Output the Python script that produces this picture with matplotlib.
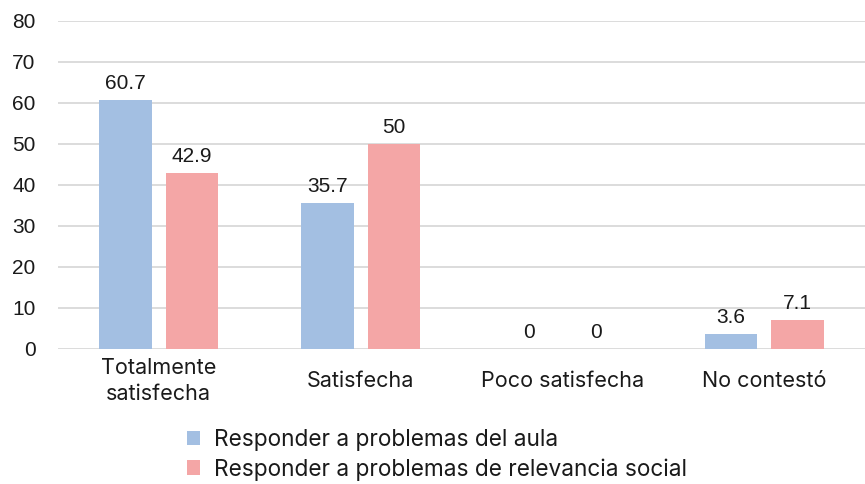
import matplotlib

matplotlib.use("Agg")
import matplotlib.pyplot as plt
import numpy as np

categories = ["Totalmente\nsatisfecha", "Satisfecha", "Poco satisfecha", "No contestó"]
series_names = ["Responder a problemas del aula",
                "Responder a problemas de relevancia social"]
aula = [60.7, 35.7, 0, 3.6]
social = [42.9, 50, 0, 7.1]
yticks = [0, 10, 20, 30, 40, 50, 60, 70, 80]

COLORS = ["#A3BFE2", "#F4A6A6"]
LABEL_FONT = ["Inter", "DejaVu Sans"]
NUM_FONT = ["Liberation Sans", "DejaVu Sans"]

fig = plt.figure(figsize=(8.65, 4.84), dpi=100)
ax = fig.add_axes([0.067, 0.279, 0.933, 0.678])

x = np.arange(len(categories))
width = 0.26
offset = 0.165
for vals, name, color, sign in zip((aula, social), series_names, COLORS, (-1, 1)):
    bars = ax.bar(x + sign * offset, vals, width, color=color, label=name, zorder=2)
    for rect, v in zip(bars, vals):
        ax.annotate(f"{v:g}", (rect.get_x() + rect.get_width() / 2, rect.get_height()),
                    xytext=(0, 5), textcoords="offset points", ha="center", va="bottom",
                    fontsize=15, family=NUM_FONT, color="#1a1a1a")

ax.set_xlim(-0.5, len(categories) - 0.5)
ax.set_ylim(0, 80)
ax.set_yticks(yticks)
ax.set_yticklabels([str(t) for t in yticks], family=NUM_FONT, fontsize=15, color="#1a1a1a")
ax.tick_params(axis="y", length=0, pad=16)
ax.set_xticks([])
ax.grid(axis="y", color="#D9D9D9", linewidth=1.3, zorder=0)
for s in ax.spines.values():
    s.set_visible(False)

# category names under the groups, centred vertically like the original
trans = matplotlib.transforms.blended_transform_factory(ax.transData, ax.transAxes)
for xi, cat in zip(x, categories):
    ax.text(xi, -0.097, cat, transform=trans, ha="center", va="center",
            fontsize=15.5, family=LABEL_FONT, color="#1a1a1a", linespacing=1.4)

fig.legend(loc="lower center", bbox_to_anchor=(0.505, -0.035), ncol=1, frameon=False,
           prop={"family": LABEL_FONT, "size": 16.3}, handlelength=0.6, handleheight=0.6,
           handletextpad=0.6, labelspacing=0.3, labelcolor="#1a1a1a")

fig.savefig("out.png", dpi=100)
